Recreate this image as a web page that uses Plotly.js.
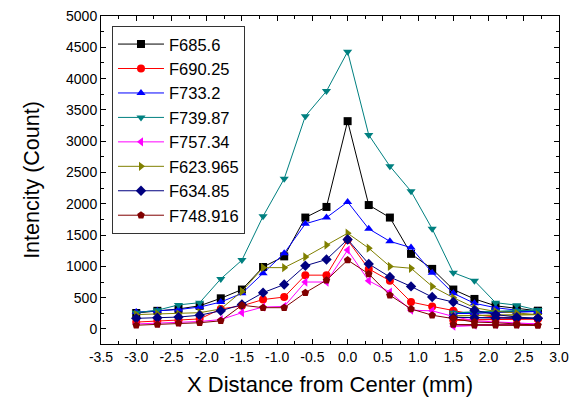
<!DOCTYPE html>
<html>
<head>
<meta charset="utf-8">
<script src="https://cdn.plot.ly/plotly-3.0.1.min.js"></script>
<style>html,body{margin:0;padding:0;background:#fff;}#chart{width:577px;height:403px;}</style>
</head>
<body>
<div id="chart"></div>
<script>
// main scan positions (mm)
const xPos = [-3.0,-2.7,-2.4,-2.1,-1.8,-1.5,-1.2,-0.9,-0.6,-0.3,0.0,0.3,0.6,0.9,1.2,1.5,1.8,2.1,2.4,2.7];
// repeated tail rows present in the source data (plotted after the main scan)
const xTail = [1.5,1.8,2.1,2.4,2.7];

const seriesNames = ["F685.6","F690.25","F733.2","F739.87","F757.34","F623.965","F634.85","F748.916"];

const F685_6   = [255,290,320,370,490,630,990,1160,1780,1950,3320,1980,1780,1200,960,630,480,370,330,290];
const F690_25  = [110,130,140,160,320,370,470,510,860,860,1420,960,770,430,360,290,230,190,170,160];
const F733_2   = [270,290,310,350,430,570,890,1210,1680,1780,2030,1600,1400,1300,900,570,410,340,300,280];
const F739_87  = [260,300,385,420,800,1100,1800,2400,3400,3800,4430,3100,2600,2200,1600,900,770,420,380,300];
const F757_34  = [80,90,100,120,150,260,350,360,750,750,1260,770,590,300,290,200,130,110,90,80];
const F623_965 = [230,240,240,260,320,600,980,980,1150,1340,1530,1290,1000,970,680,500,340,280,250,230];
const F634_85  = [170,180,190,220,290,390,580,710,1010,1110,1430,1040,830,680,510,430,300,230,190,170];
const F748_916 = [60,70,90,100,130,380,340,340,580,780,1100,880,540,320,220,170,110,100,80,60];

const F685_6_tail   = [250,260,270,280,290];
const F690_25_tail  = [140,150,155,160,160];
const F733_2_tail   = [245,255,265,275,280];
const F739_87_tail  = [260,270,280,290,300];
const F757_34_tail  = [45,60,70,75,80];
const F623_965_tail = [210,215,220,225,230];
const F634_85_tail  = [185,180,175,170,170];
const F748_916_tail = [70,60,60,60,60];

const seriesValues = [F685_6,F690_25,F733_2,F739_87,F757_34,F623_965,F634_85,F748_916];
const tailValues = [F685_6_tail,F690_25_tail,F733_2_tail,F739_87_tail,F757_34_tail,F623_965_tail,F634_85_tail,F748_916_tail];
const seriesColors = ["#000000","#FF0000","#0000FF","#008080","#FF00FF","#808000","#000080","#800000"];
const seriesSymbols = ["square","circle","triangle-up","triangle-down","triangle-left","triangle-right","diamond","pentagon"];

const xTickVals = [-3.5,-3.0,-2.5,-2.0,-1.5,-1.0,-0.5,0.0,0.5,1.0,1.5,2.0,2.5,3.0];
const xTickText = ["-3.5","-3.0","-2.5","-2.0","-1.5","-1.0","-0.5","0.0","0.5","1.0","1.5","2.0","2.5","3.0"];
const yTickVals = [0,500,1000,1500,2000,2500,3000,3500,4000,4500,5000];

const traces = seriesNames.map((name, i) => ({
  type: "scatter",
  mode: "lines+markers",
  name: name,
  x: xPos.concat(xTail),
  y: seriesValues[i].concat(tailValues[i]),
  line: {color: seriesColors[i], width: 1},
  marker: {color: seriesColors[i], symbol: seriesSymbols[i], size: 8,
           line: {width: 0}}
}));

const FONT = "Arial, 'Liberation Sans', sans-serif";

const layout = {
  width: 577, height: 403,
  margin: {l: 101, r: 18, t: 16, b: 59},
  paper_bgcolor: "#fff", plot_bgcolor: "#fff",
  font: {family: FONT, color: "#000", size: 14},
  showlegend: true,
  legend: {
    x: 0.024, y: 0.97, xanchor: "left", yanchor: "top",
    bgcolor: "#fff", bordercolor: "#333", borderwidth: 1,
    font: {family: FONT, size: 16.5, color: "#000"},
    tracegroupgap: 0, itemwidth: 46
  },
  xaxis: {
    range: [-3.5, 3.0], tickmode: "array", tickvals: xTickVals, ticktext: xTickText,
    ticks: "inside", ticklen: 5, tickwidth: 1, tickcolor: "#000",
    minor: {dtick: 0.25, tick0: 0, ticks: "inside", ticklen: 3, tickcolor: "#000", tickwidth: 1},
    showline: true, linecolor: "#000", linewidth: 1, mirror: "allticks",
    showgrid: false, zeroline: false,
    tickfont: {family: FONT, size: 14, color: "#000"},
    title: {text: "X Distance from Center (mm)", font: {family: FONT, size: 22, color: "#000"}, standoff: 12}
  },
  yaxis: {
    range: [-240, 5000], tickmode: "array", tickvals: yTickVals,
    ticks: "inside", ticklen: 5, tickwidth: 1, tickcolor: "#000",
    minor: {dtick: 250, tick0: 0, ticks: "inside", ticklen: 3, tickcolor: "#000", tickwidth: 1},
    showline: true, linecolor: "#000", linewidth: 1, mirror: "allticks",
    showgrid: false, zeroline: false,
    tickfont: {family: FONT, size: 14, color: "#000"},
    title: {text: "Intencity (Count)", font: {family: FONT, size: 21.5, color: "#000"}, standoff: 20}
  }
};

Plotly.newPlot("chart", traces, layout, {displayModeBar: false, staticPlot: true});
</script>
</body>
</html>
